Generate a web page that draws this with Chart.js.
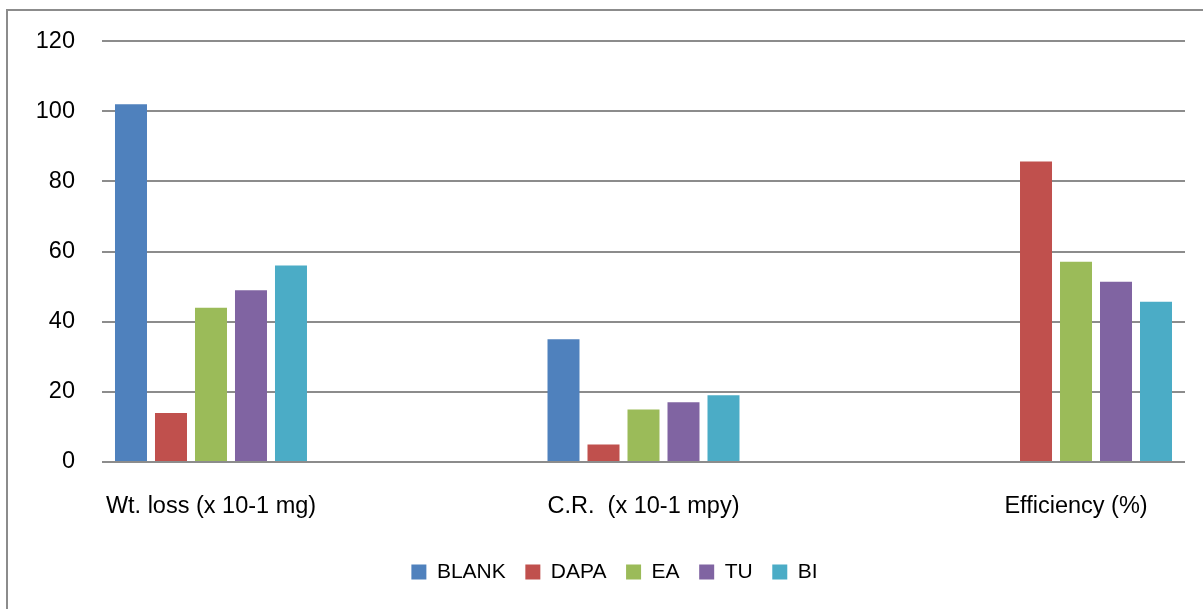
<!DOCTYPE html>
<html>
<head>
<meta charset="utf-8">
<script src="https://cdn.jsdelivr.net/npm/chart.js@4/dist/chart.umd.min.js"></script>
<style>
  html, body { margin: 0; padding: 0; background: #fff; }
  #wrap { width: 1203px; height: 609px; position: relative; }
</style>
</head>
<body>
<div id="wrap"><canvas id="chart" width="1203" height="609"></canvas></div>
<script>
// Measured quantities (categories along x)
const categories = ['Wt. loss (x 10-1 mg)', 'C.R.  (x 10-1 mpy)', 'Efficiency (%)'];

// One series per inhibitor system
const seriesNames = ['BLANK', 'DAPA', 'EA', 'TU', 'BI'];
const blankValues = [102, 35, 0];
const dapaValues  = [14, 5, 85.7];
const eaValues    = [44, 15, 57.1];
const tuValues    = [49, 17, 51.4];
const biValues    = [56, 19, 45.7];

// Value axis ticks
const yTicks = [0, 20, 40, 60, 80, 100, 120];

const seriesValues = [blankValues, dapaValues, eaValues, tuValues, biValues];
const seriesColors = ['#4F81BD', '#C0504D', '#9BBB59', '#8064A2', '#4BACC6'];

const FONT = "'Liberation Sans', Arial, sans-serif";

// Grey frame around the chart
const framePlugin = {
  id: 'frame',
  beforeDraw(chart) {
    const ctx = chart.ctx;
    ctx.save();
    ctx.fillStyle = '#ffffff';
    ctx.fillRect(0, 0, chart.width, chart.height);
    ctx.strokeStyle = '#8c8c8c';
    ctx.lineWidth = 2;
    ctx.strokeRect(7, 10, chart.width + 50, chart.height + 50);
    ctx.restore();
  }
};

// Nudge the legend row slightly right so it sits under the middle of the frame
const legendShift = {
  id: 'legendShift',
  afterLayout(chart) {
    const lg = chart.legend;
    if (lg) { lg.left += 12; lg.right += 12; }
  }
};

const datasets = seriesNames.map((name, s) => ({
  label: name,
  data: seriesValues[s].map((v, i) => ({ x: i, y: v })),
  backgroundColor: seriesColors[s],
  borderWidth: 0,
  categoryPercentage: 0.4624,
  barPercentage: 0.8
}));

new Chart(document.getElementById('chart'), {
  type: 'bar',
  data: { datasets },
  plugins: [framePlugin, legendShift],
  options: {
    responsive: false,
    animation: false,
    devicePixelRatio: 1,
    layout: { padding: { left: 20, right: 18, top: 39, bottom: 16.4 } },
    plugins: {
      tooltip: { enabled: false },
      legend: {
        position: 'bottom',
        labels: {
          boxWidth: 15,
          boxHeight: 15,
          padding: 19.6,
          color: '#000',
          font: { family: FONT, size: 21 }
        }
      }
    },
    scales: {
      x: {
        type: 'linear',
        offset: false,
        min: -0.252,
        max: categories.length - 1 + 0.252,
        afterBuildTicks(scale) {
          scale.ticks = categories.map((_, i) => ({ value: i }));
        },
        afterFit(scale) { scale.height = 80; },
        ticks: {
          callback: (v) => categories[v],
          padding: 30,
          maxRotation: 0,
          autoSkip: false,
          color: '#000',
          font: { family: FONT, size: 23.5 }
        },
        grid: { display: false, drawTicks: false },
        border: { display: false }
      },
      y: {
        min: 0,
        max: 120,
        afterBuildTicks(scale) {
          scale.ticks = yTicks.map(v => ({ value: v }));
        },
        afterFit(scale) { scale.width = 82; },
        ticks: {
          padding: 27,
          color: '#000',
          font: { family: FONT, size: 23.5 }
        },
        grid: { color: '#8c8c8c', lineWidth: 2, drawTicks: false },
        border: { display: false }
      }
    }
  }
});
</script>
</body>
</html>
